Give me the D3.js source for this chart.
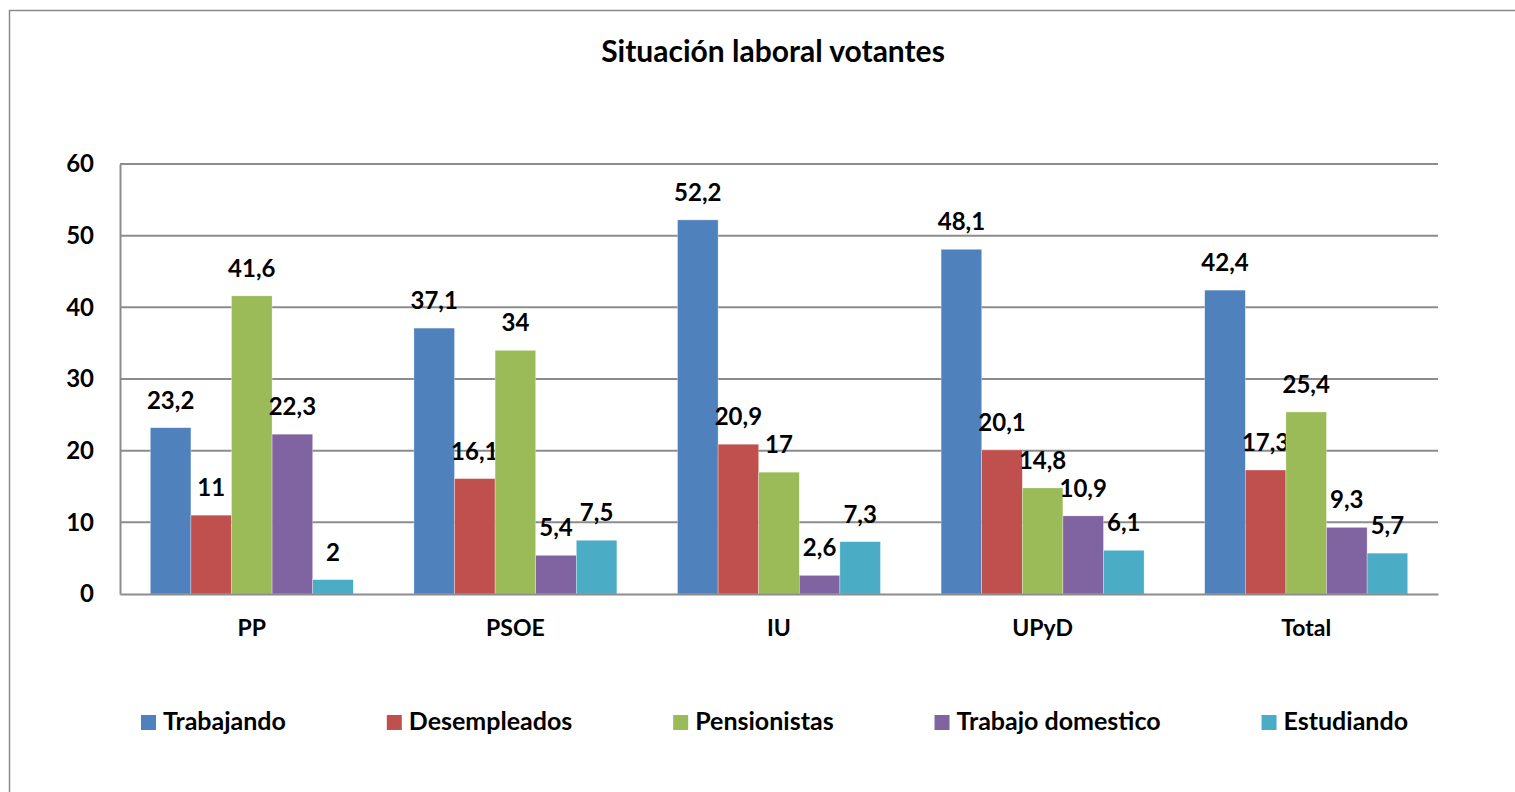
<!DOCTYPE html>
<html>
<head>
<meta charset="utf-8">
<script src="https://cdn.jsdelivr.net/npm/d3@7"></script>
<style>
  body { margin: 0; background: #fff; }
  svg text { font-family: Lato, "Open Sans", sans-serif; font-weight: bold; fill: #000; }
</style>
</head>
<body>
<div id="graph"></div>
<script>
(function(){
	"use strict";

	//chart values
	var categories = ["PP", "PSOE", "IU", "UPyD", "Total"];
	var seriesNames = ["Trabajando", "Desempleados", "Pensionistas", "Trabajo domestico", "Estudiando"];
	var trabajando = [23.2, 37.1, 52.2, 48.1, 42.4];
	var desempleados = [11, 16.1, 20.9, 20.1, 17.3];
	var pensionistas = [41.6, 34, 17, 14.8, 25.4];
	var trabajoDomestico = [22.3, 5.4, 2.6, 10.9, 9.3];
	var estudiando = [2, 7.5, 7.3, 6.1, 5.7];
	var yTicks = [0, 10, 20, 30, 40, 50, 60];

	var seriesValues = [trabajando, desempleados, pensionistas, trabajoDomestico, estudiando];
	var colors = ["#4F81BD", "#C0504D", "#9BBB59", "#8064A2", "#4BACC6"];

	var width = 1515, height = 792;
	var plot = {left: 120, right: 1438, top: 164, bottom: 594};

	var svg = d3.select("#graph").append("svg")
		.attr("width", width)
		.attr("height", height);

	//outer chart border
	svg.append("rect")
		.attr("x", 9.5).attr("y", 10.5)
		.attr("width", 1520).attr("height", 800)
		.attr("fill", "none")
		.attr("stroke", "#8a8a8a")
		.attr("stroke-width", 1.5);

	svg.append("text")
		.attr("x", 773).attr("y", 62)
		.attr("text-anchor", "middle")
		.attr("font-size", "30px")
		.text("Situación laboral votantes");

	var x0 = d3.scaleBand()
		.domain(categories)
		.range([plot.left, plot.right])
		.paddingInner(0.23)
		.paddingOuter(0.115);

	var x1 = d3.scaleBand()
		.domain(seriesNames)
		.range([0, x0.bandwidth()]);

	var y = d3.scaleLinear()
		.domain([0, 60])
		.range([plot.bottom, plot.top]);

	//gridlines
	svg.append("g")
		.selectAll("line")
		.data(yTicks.slice(1))
		.enter().append("line")
		.attr("x1", plot.left).attr("x2", plot.right)
		.attr("y1", function(d) { return y(d); })
		.attr("y2", function(d) { return y(d); })
		.attr("stroke", "#8c8c8c")
		.attr("stroke-width", 2);

	//y axis
	var yAxis = svg.append("g")
		.attr("transform", "translate(" + plot.left + ",0)")
		.call(d3.axisLeft(y).tickValues(yTicks).tickSize(0).tickPadding(26));
	yAxis.select(".domain").attr("stroke", "#8c8c8c").attr("stroke-width", 2);
	yAxis.selectAll("text").attr("font-size", "24px").attr("font-family", null).attr("fill", "#000");

	//bars
	var groups = svg.append("g").selectAll("g")
		.data(categories)
		.enter().append("g")
		.attr("transform", function(d) { return "translate(" + x0(d) + ",0)"; });

	var bars = groups.selectAll("g")
		.data(function(c, ci) {
			return seriesNames.map(function(s, si) { return {series: s, idx: si, value: seriesValues[si][ci]}; });
		})
		.enter().append("g");

	bars.append("rect")
		.attr("x", function(d) { return x1(d.series); })
		.attr("y", function(d) { return y(d.value); })
		.attr("width", x1.bandwidth())
		.attr("height", function(d) { return y(0) - y(d.value); })
		.attr("fill", function(d) { return colors[d.idx]; })
		.attr("stroke", "#ffffff")
		.attr("stroke-opacity", 0.5)
		.attr("stroke-width", 0.6);

	bars.append("text")
		.attr("x", function(d) { return x1(d.series) + x1.bandwidth() / 2; })
		.attr("y", function(d) { return y(d.value) - 19; })
		.attr("text-anchor", "middle")
		.attr("font-size", "24px")
		.text(function(d) { return String(d.value).replace(".", ","); });

	//x axis
	var xAxis = svg.append("g")
		.attr("transform", "translate(0," + plot.bottom + ")")
		.call(d3.axisBottom(x0).tickSize(0).tickPadding(26));
	xAxis.select(".domain").attr("stroke", "#8c8c8c").attr("stroke-width", 2);
	xAxis.selectAll("text").attr("font-size", "23px").attr("font-family", null).attr("fill", "#000");

	//legend, spaced from the measured text widths
	var legend = svg.append("g");
	var items = legend.selectAll("g")
		.data(seriesNames)
		.enter().append("g");
	items.append("rect")
		.attr("y", 715)
		.attr("width", 15).attr("height", 15)
		.attr("fill", function(d, i) { return colors[i]; });
	items.append("text")
		.attr("x", 22).attr("y", 730)
		.attr("font-size", "25px")
		.text(function(d) { return d; });

	var widths = [];
	items.each(function() { widths.push(22 + d3.select(this).select("text").node().getComputedTextLength()); });
	var legendLeft = 141, legendRight = 1408;
	var gap = (legendRight - legendLeft - d3.sum(widths)) / (widths.length - 1);
	var pos = legendLeft;
	items.attr("transform", function(d, i) {
		var p = pos; pos += widths[i] + gap;
		return "translate(" + p + ",0)";
	});
})();
</script>
</body>
</html>
